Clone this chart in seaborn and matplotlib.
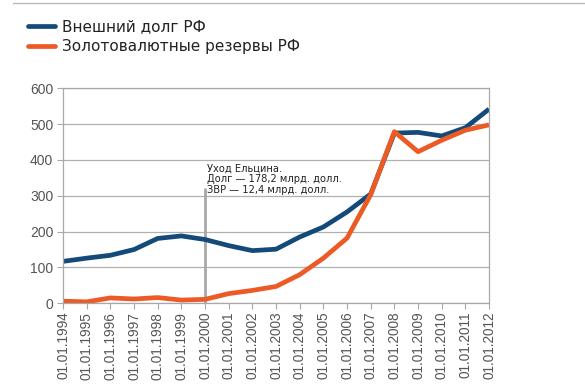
import pandas as pd
import seaborn as sns
from matplotlib import pyplot as plt
from matplotlib.lines import Line2D

years = list(range(1994, 2013))
debt = [117, 126, 134, 150, 181, 188, 178, 161, 147, 151, 185, 213, 255, 305,
        475, 477, 467, 490, 542]
reserves = [6, 4, 15, 12, 16, 9, 11, 27, 36, 47, 80, 126, 182, 303,
            479, 423, 455, 483, 498]
series_names = ['Внешний долг РФ', 'Золотовалютные резервы РФ']
tick_labels = ['01.01.%d' % y for y in years]
note = 'Уход Ельцина.\nДолг — 178,2 млрд. долл.\nЗВР — 12,4 млрд. долл.'

df = pd.concat([
    pd.DataFrame({'year': years, 'value': debt, 'series': series_names[0]}),
    pd.DataFrame({'year': years, 'value': reserves, 'series': series_names[1]}),
])

sns.set_style('white')
plt.rcParams['font.family'] = ['DejaVu Sans']

fig = plt.figure(figsize=(5.85, 3.9), dpi=100)
ax = fig.add_axes([0.1077, 0.2223, 0.7283, 0.5513])

palette = {series_names[0]: '#144a79', series_names[1]: '#ec5a26'}
sns.lineplot(data=df, x='year', y='value', hue='series', palette=palette,
             linewidth=3.4, ax=ax, legend=False, solid_capstyle='butt')

# Yeltsin marker
ax.vlines(2000, 0, 322, color='#a8a8a8', linewidth=2, zorder=1)
ax.text(2000.1, 302, note, fontsize=7.1, color='#222222', va='bottom',
        ha='left', linespacing=1.1)

ax.set_xlim(1994, 2012)
ax.set_ylim(0, 600)
ax.set_xticks(years)
ax.set_xticklabels(tick_labels, rotation=90, fontsize=9.8, color='#555555',
                   family='Liberation Sans')
ax.set_yticks(range(0, 601, 100))
for lab in ax.get_yticklabels():
    lab.set_family('Liberation Sans')
ax.tick_params(axis='y', labelsize=10, labelcolor='#555555', length=4,
               color='#a8a8a8', left=True, pad=3)
ax.tick_params(axis='x', length=4, color='#a8a8a8', bottom=True, pad=2)
ax.set_xlabel('')
ax.set_ylabel('')
ax.yaxis.grid(True, color='#b0b0b0', linewidth=0.9)
ax.set_axisbelow(True)
for s in ax.spines.values():
    s.set_color('#a8a8a8')
    s.set_linewidth(0.9)

handles = [Line2D([], [], color=palette[n], linewidth=3.4) for n in series_names]
fig.legend(handles, series_names, loc='upper left', bbox_to_anchor=(0.024, 0.985),
           frameon=False, fontsize=11, handlelength=1.75, handletextpad=0.5,
           labelspacing=0.3, labelcolor='#222222')

fig.add_artist(Line2D([0.022, 1.0], [0.992, 0.992], color='#b8b8b8', linewidth=1))

fig.savefig('out.png', dpi=100)
